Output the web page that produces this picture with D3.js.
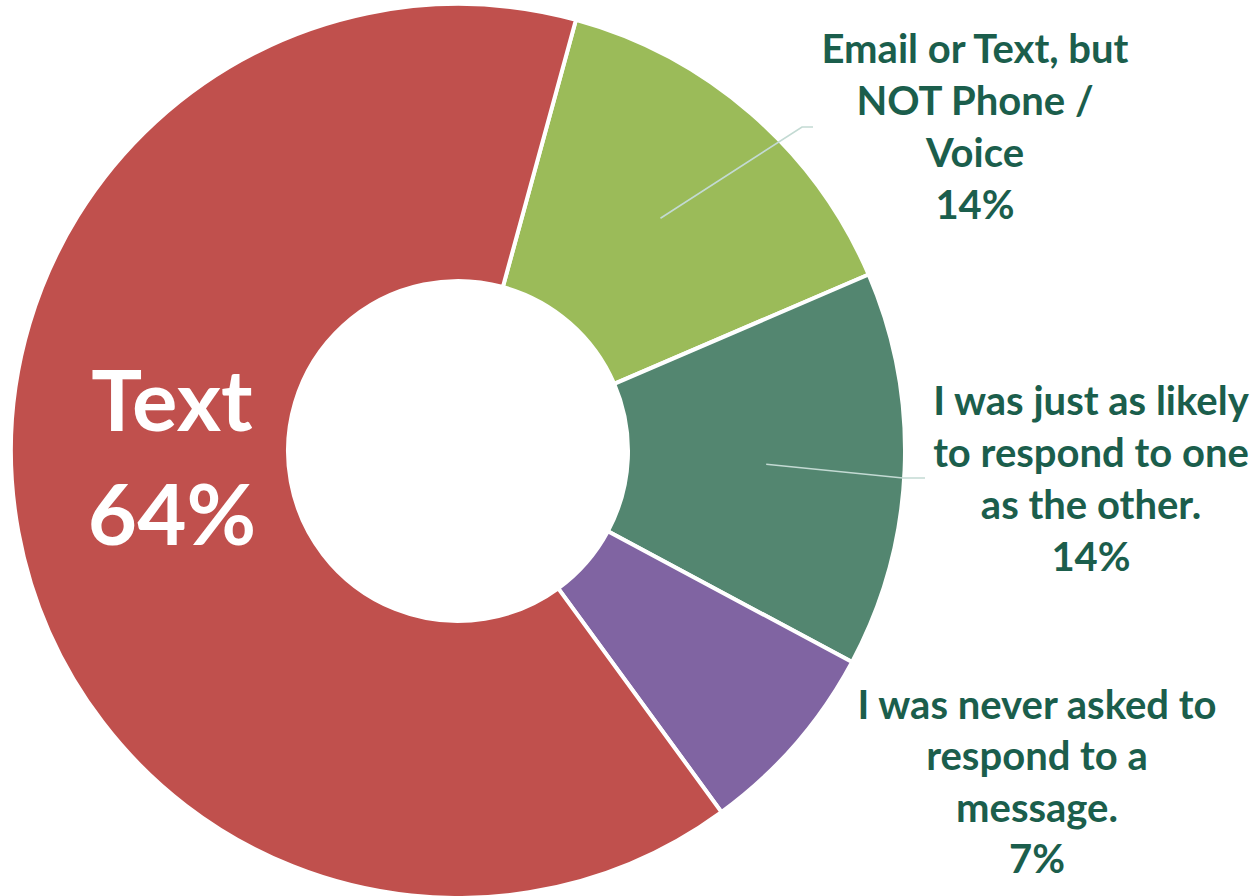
<!DOCTYPE html>
<html>
<head>
<meta charset="utf-8">
<script src="https://cdn.jsdelivr.net/npm/d3@7"></script>
<style>
  body { margin: 0; background: #fff; }
  svg { display: block; }
  text { font-family: Lato, "Open Sans", sans-serif; font-weight: bold; }
</style>
</head>
<body>
<svg id="chart"></svg>
<script>
// data
var categories = ["Email or Text, but NOT Phone / Voice",
                  "I was just as likely to respond to one as the other.",
                  "I was never asked to respond to a message.",
                  "Text"];
var values = [14.29, 14.29, 7.14, 64.29];
var pctLabels = ["14%", "14%", "7%", "64%"];
var labelLines = [
    ["Email or Text, but", "NOT Phone /", "Voice"],
    ["I was just as likely", "to respond to one", "as the other."],
    ["I was never asked to", "respond to a", "message."],
    ["Text"]
];
var colors = ["#9BBB59", "#538670", "#8064A2", "#C0504D"];

var width = 1257,
    height = 896,
    cx = 458,
    cy = 451,
    outerR = 447,
    innerR = 170;

var svg = d3.select("#chart")
    .attr("width", width)
    .attr("height", height);

var g = svg.append("g").attr("transform", "translate(" + cx + "," + cy + ")");

var start = 15.3 * Math.PI / 180;
var pie = d3.pie().sort(null).value(function (d) { return d; })
    .startAngle(start).endAngle(start + 2 * Math.PI);
var arc = d3.arc().innerRadius(innerR).outerRadius(outerR);

var arcs = pie(values);

g.selectAll("path.slice")
    .data(arcs)
    .enter().append("path")
    .attr("class", "slice")
    .attr("d", arc)
    .style("fill", function (d, i) { return colors[i]; })
    .style("stroke", "#fff")
    .style("stroke-width", 4)
    .style("stroke-linejoin", "round");

// label placement (center x, first baseline, line step, font size, colour)
var labelPos = [
    { x: 975, y: 63, step: 52, size: 40, fill: "#1B5E4C" },
    { x: 1091, y: 415, step: 52, size: 40, fill: "#1B5E4C" },
    { x: 1037, y: 719, step: 51.3, size: 40, fill: "#1B5E4C" },
    { x: 172, y: 431, step: 114, size: 85, fill: "#fff" }
];
// leader line elbows, only for the first two labels
var leaders = [
    { elbow: [802, 127], end: [813, 127] },
    { elbow: [903, 478], end: [925, 478] },
    null,
    null
];

arcs.forEach(function (d, i) {
    var lead = leaders[i];
    if (!lead) return;
    var c = arc.centroid(d);
    var pts = [[c[0] + cx, c[1] + cy], lead.elbow, lead.end];
    svg.append("path")
        .attr("d", d3.line()(pts))
        .style("fill", "none")
        .style("stroke", "#C3DAD3")
        .style("stroke-width", 1.6);
});

labelLines.forEach(function (lines, i) {
    var p = labelPos[i];
    var t = svg.append("text")
        .attr("text-anchor", "middle")
        .style("font-size", p.size + "px")
        .style("fill", p.fill);
    lines.concat([pctLabels[i]]).forEach(function (s, k) {
        t.append("tspan")
            .attr("x", p.x)
            .attr("y", p.y + k * p.step)
            .text(s);
    });
});
</script>
</body>
</html>
